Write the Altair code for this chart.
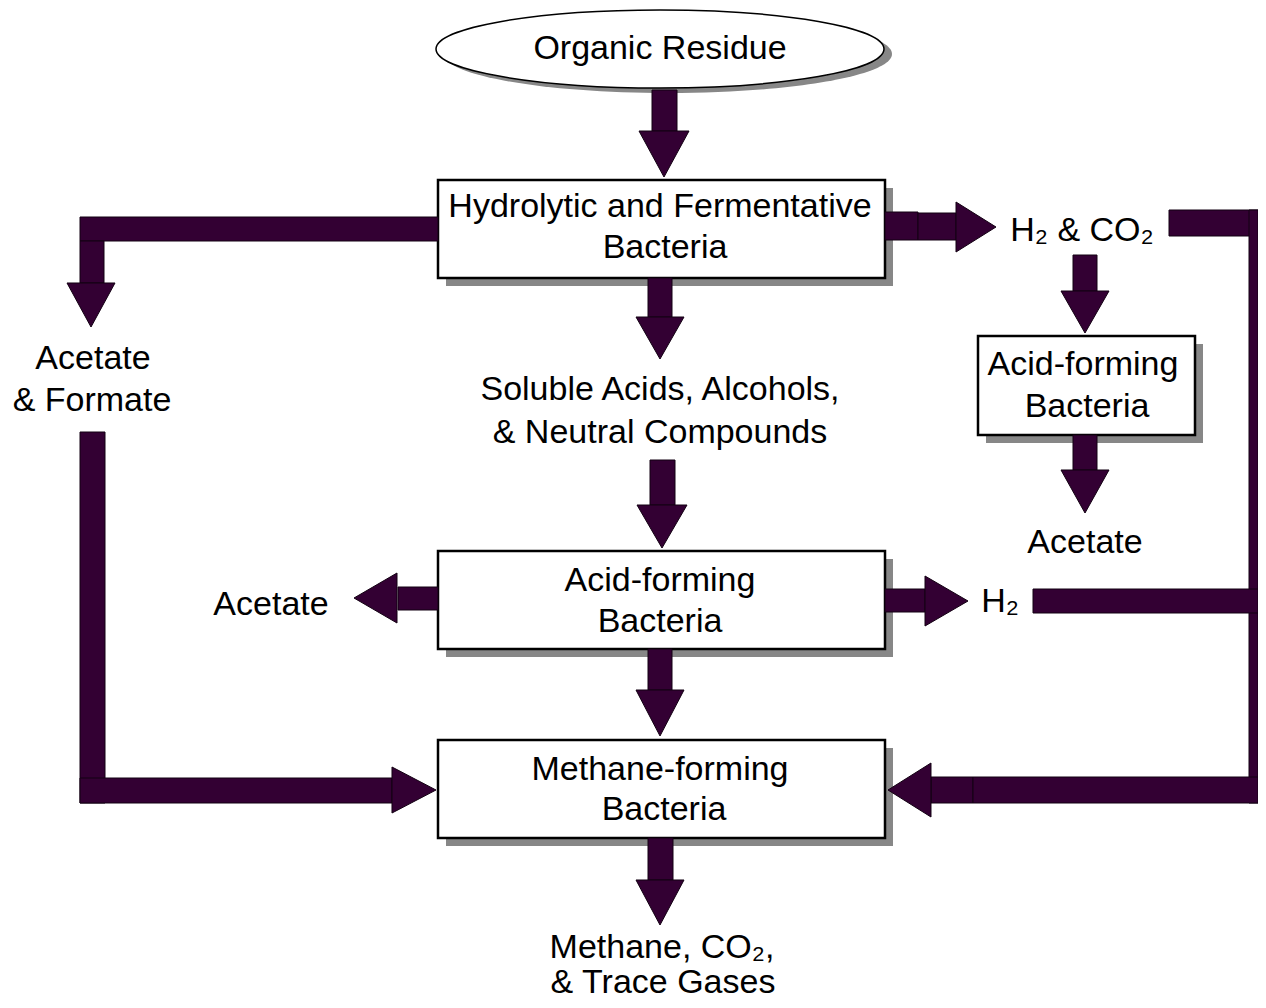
import altair as alt
import pandas as pd

PURPLE = "#330033"
SHADOW = "#878787"

# ---------------- text lines (one row per line) ----------------
label_text = [
    "Organic Residue",
    "Hydrolytic and Fermentative", "Bacteria",
    "Acetate", "& Formate",
    "H\u2082 & CO\u2082",
    "Soluble Acids, Alcohols,", "& Neutral Compounds",
    "Acid-forming", "Bacteria",
    "Acetate",
    "Acid-forming", "Bacteria",
    "Acetate",
    "H\u2082",
    "Methane-forming", "Bacteria",
    "Methane, CO\u2082,", "& Trace Gases",
]
label_x = [660, 660, 665, 93, 92, 1082, 660, 660, 1083, 1087, 1085,
           660, 660, 271, 1000, 660, 664, 662, 663]
label_y = [59, 217, 258, 369, 411, 241, 400, 443, 375, 417, 553,
           591, 632, 615, 612, 780, 820, 958, 993]

# ---------------- boxes ----------------
box_x0 = [438, 978, 438, 438]
box_x1 = [885, 1195, 885, 885]
box_y0 = [180, 336, 551, 740]
box_y1 = [278, 435, 649, 838]

# ---------------- ellipse (Organic Residue) ----------------
ell_cx = [660]
ell_cy = [49]
ell_rx = [224]
ell_ry = [39]

# ---------------- arrow shafts / connector bars ----------------
shaft_x0 = [652, 80, 80, 80, 80, 885, 918, 1169, 1249, 1073, 1073, 648, 650, 398, 885, 1033, 648, 931, 973, 648]
shaft_x1 = [677, 438, 104, 105, 392, 918, 956, 1258, 1258, 1097, 1097, 672, 675, 438, 925, 1258, 672, 973, 1258, 673]
shaft_y0 = [90, 217, 241, 432, 778, 212, 213, 210, 210, 255, 435, 278, 460, 587, 589, 589, 649, 777, 777, 838]
shaft_y1 = [131, 241, 283, 803, 803, 240, 240, 236, 803, 291, 470, 317, 505, 610, 612, 613, 690, 803, 803, 880]

# ---------------- arrow heads ----------------
head_dir = ["down", "down", "right", "right", "down", "down", "down", "down", "left", "right", "down", "left", "down"]
head_c = [664, 91, 790, 227, 1085, 1085, 660, 662, 598, 601, 660, 790, 660]
head_base = [131, 283, 392, 956, 291, 470, 317, 505, 397, 925, 690, 931, 880]
head_tip = [177, 327, 436, 996, 333, 513, 359, 548, 354, 968, 736, 888, 925]
head_w = [50, 48, 46, 50, 48, 48, 48, 50, 50, 50, 48, 54, 48]

# ---------------- build tables ----------------
boxes = pd.DataFrame({"x0": box_x0, "x1": box_x1, "y0": box_y0, "y1": box_y1})
shadows = boxes.copy()
shadows[["x0", "x1"]] += 8
shadows[["y0", "y1"]] += 8

shafts = pd.DataFrame({"x0": shaft_x0, "x1": shaft_x1, "y0": shaft_y0, "y1": shaft_y1})

rows = []
for d, c, b, t, w in zip(head_dir, head_c, head_base, head_tip, head_w):
    L = abs(t - b)
    r = round(L / w, 3)
    if d == "down":
        path = f"M -1 {-r} L 1 {-r} L 0 {r} Z"
        cx, cy = c, (b + t) / 2
    elif d == "right":
        path = f"M {-r} -1 L {r} 0 L {-r} 1 Z"
        cx, cy = (b + t) / 2, c
    else:
        path = f"M {r} -1 L {-r} 0 L {r} 1 Z"
        cx, cy = (b + t) / 2, c
    rows.append({"cx": cx, "cy": cy, "shape": path, "size": w * w})
heads = pd.DataFrame(rows)

ell_rows = []
for cx, cy, rx, ry in zip(ell_cx, ell_cy, ell_rx, ell_ry):
    k = round(ry / rx, 4)
    path = f"M -1 0 A 1 {k} 0 1 1 1 0 A 1 {k} 0 1 1 -1 0 Z"
    ell_rows.append({"cx": cx, "cy": cy, "shape": path, "size": (2 * rx) ** 2})
ellipse = pd.DataFrame(ell_rows)
ellipse_shadow = ellipse.copy()
ellipse_shadow["cx"] += 8
ellipse_shadow["cy"] += 5

labels = pd.DataFrame({"text": label_text, "x": label_x, "y": label_y})

# ---------------- scales ----------------
xs = alt.Scale(domain=[8, 1258], nice=False, zero=False)
ys = alt.Scale(domain=[8, 1000], nice=False, zero=False, reverse=True)


def rect_layer(df, **mark):
    return alt.Chart(df).mark_rect(**mark).encode(
        x=alt.X("x0:Q", scale=xs, axis=None),
        x2="x1:Q",
        y=alt.Y("y0:Q", scale=ys, axis=None),
        y2="y1:Q",
    )


def symbol_layer(df, **mark):
    return alt.Chart(df).mark_point(filled=True, opacity=1, **mark).encode(
        x=alt.X("cx:Q", scale=xs, axis=None),
        y=alt.Y("cy:Q", scale=ys, axis=None),
        shape=alt.Shape("shape:N", scale=None, legend=None),
        size=alt.Size("size:Q", scale=None, legend=None),
    )


ell_shadow_layer = symbol_layer(ellipse_shadow, color=SHADOW, strokeWidth=0)
ell_layer = symbol_layer(ellipse, color="white", stroke="black", strokeWidth=1.5)
shadow_layer = rect_layer(shadows, color=SHADOW)
box_layer = rect_layer(boxes, fill="white", stroke="black", strokeWidth=2.5)
shaft_layer = rect_layer(shafts, fill=PURPLE, stroke="#120012", strokeWidth=1)
head_layer = symbol_layer(heads, color=PURPLE, stroke="#120012", strokeWidth=1)

text_layer = alt.Chart(labels).mark_text(
    font="Liberation Sans", fontSize=34, baseline="alphabetic", align="center", color="black"
).encode(
    x=alt.X("x:Q", scale=xs, axis=None),
    y=alt.Y("y:Q", scale=ys, axis=None),
    text="text:N",
)

chart = alt.layer(
    ell_shadow_layer, ell_layer, shadow_layer, box_layer, shaft_layer, head_layer, text_layer
).properties(
    width=1250, height=992, padding=0,
    autosize=alt.AutoSizeParams(type="none"),
    background="white",
).configure_view(stroke=None)

chart.save("out.html", embed_options={"renderer": "svg", "actions": False})
